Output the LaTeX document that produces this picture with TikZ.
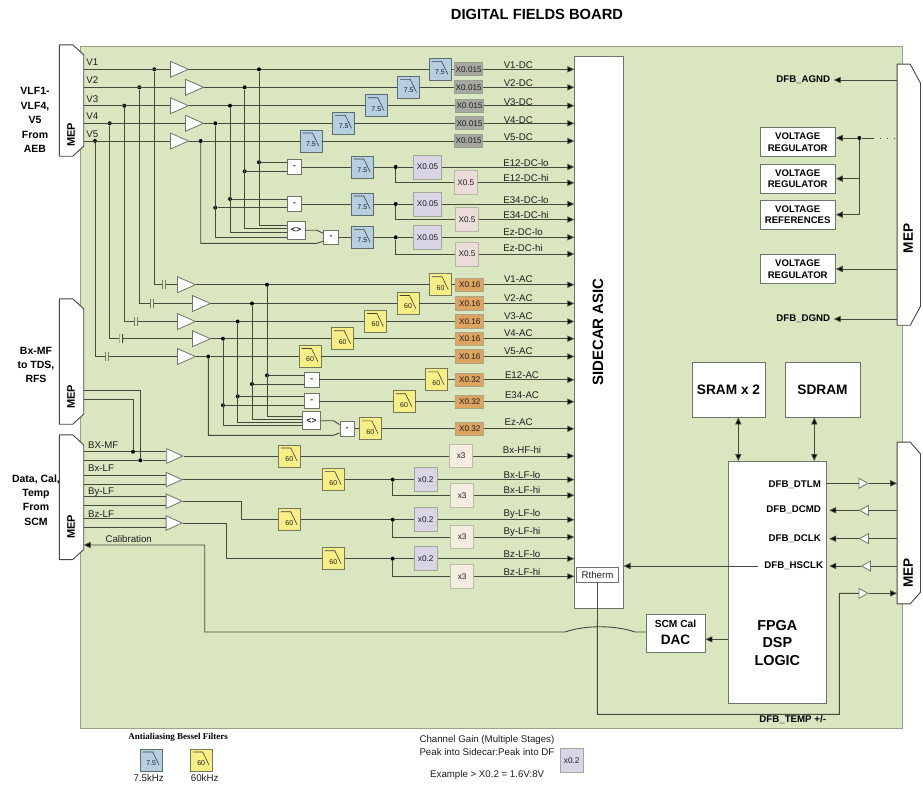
\documentclass[tikz,border=0pt]{standalone}
\usepackage{fontspec}
\setmainfont{Liberation Sans}
\newfontfamily\serifbold{Liberation Serif}
\usetikzlibrary{arrows.meta,shapes.geometric}
\definecolor{board}{HTML}{D9E6C0}
\definecolor{wirec}{HTML}{45483C}
\definecolor{txt}{HTML}{1E1E1E}
\definecolor{edgeg}{HTML}{70756A}
\newcommand\fs[1]{\fontsize{#1}{#1}\selectfont}
\tikzset{
 wire/.style={draw=wirec,line width=.9pt},
 arr/.style={wire,-{Triangle[length=7pt,width=6.2pt,fill=black]}},
 dbl/.style={wire,{Triangle[length=7pt,width=6.2pt,fill=black]}-{Triangle[length=7pt,width=6.2pt,fill=black]}},
 dot/.style={circle,fill=black,inner sep=0pt,minimum size=4pt},
 lbl/.style={inner sep=0pt,text=txt,font=\fs{9.7}},
 blbl/.style={inner sep=0pt,text=black,font=\fs{9.7}\bfseries,align=center},
 sidetxt/.style={inner sep=0pt,text=black,font=\fontsize{10.5}{14.4}\selectfont\bfseries,align=center},
 buf/.style={isosceles triangle,isosceles triangle stretches,draw=edgeg,fill=white,line width=.8pt,inner sep=0pt,minimum width=16pt,minimum height=18pt,anchor=west},
 tb/.style={buf,minimum width=10pt,minimum height=9pt},
 tbl/.style={tb,shape border rotate=180},
 capn/.style={rectangle,inner sep=0pt,fill=board,minimum width=3.4pt,minimum height=9.5pt,
   path picture={\draw[wirec,line width=1.6pt] (path picture bounding box.north west)--(path picture bounding box.south west) (path picture bounding box.north east)--(path picture bounding box.south east);}},
 filt/.style={rectangle,inner sep=0pt,minimum width=22pt,minimum height=22pt,line width=.95pt,
   label={[inner sep=0pt,text=txt,font=\fs{7},shift={(0,3)}]center:#1},
   path picture={\draw[black!75,line width=.6pt] ([shift={(2.5,3)}]path picture bounding box.north west) -- ++(10,0) -- ++(6.3,13);}},
 filtB/.style={filt=#1,fill=fb,draw=fbd},
 filtY/.style={filt=#1,fill=fy,draw=fyd},
 diffb/.style={rectangle,draw=edgeg,fill=white,line width=.85pt,inner sep=0pt,minimum width=14.5pt,minimum height=14.5pt,font=\fs{8.5}\bfseries,text=txt},
 logicb/.style={diffb,minimum width=17.7pt,minimum height=17.7pt},
 gain/.style={rectangle,inner sep=0pt,line width=.8pt,font=\fs{8.2},text=txt},
 gGray/.style={gain,fill=gGrayc,draw=gGrayd,minimum width=28pt,minimum height=13pt},
 gOr/.style={gain,fill=gOrc,draw=gOrd,minimum width=28pt,minimum height=13.3pt},
 gLil/.style={gain,fill=gLilc,draw=gLild,minimum width=28.4pt,minimum height=24pt},
 gLils/.style={gain,fill=gLilc,draw=gLild,minimum width=23pt,minimum height=24pt},
 gPink/.style={gain,fill=gPinkc,draw=gPinkd,minimum width=23pt,minimum height=24pt},
 gCr/.style={gain,fill=gCrc,draw=gCrd,minimum width=23pt,minimum height=23.7pt},
 mepn/.style={rectangle,inner sep=0pt},
 mepo/.style={draw=wirec,fill=white,line width=.9pt,line join=round},
 blk/.style={rectangle,draw=edgeg,fill=white,line width=.9pt,inner sep=0pt,align=center,text=black},
 vr/.style={blk,minimum width=75.3pt,minimum height=29.3pt,font=\fontsize{9.6}{11.7}\selectfont\bfseries},
}
\newcommand\mepdraw[3]{\draw[mepo] (#1.north west) -- ([xshift=-#2pt]#1.north east) -- ([yshift=-#3pt]#1.north east) -- ([yshift=#3pt]#1.south east) -- ([xshift=-#2pt]#1.south east) -- (#1.south west) -- cycle;}
\definecolor{fb}{HTML}{B5CEE0}\definecolor{fbd}{HTML}{5E6E70}
\definecolor{fy}{HTML}{F7EF85}\definecolor{fyd}{HTML}{76785A}
\definecolor{gGrayc}{HTML}{A8A8A2}\definecolor{gGrayd}{HTML}{98A090}
\definecolor{gOrc}{HTML}{DFA45F}\definecolor{gOrd}{HTML}{A8A888}
\definecolor{gLilc}{HTML}{DAD5E6}\definecolor{gLild}{HTML}{A4A898}
\definecolor{gPinkc}{HTML}{ECDDDA}\definecolor{gPinkd}{HTML}{B4B8A4}
\definecolor{gCrc}{HTML}{F5EDDF}\definecolor{gCrd}{HTML}{B8BCA8}
\begin{document}
\begin{tikzpicture}[x=1pt,y=-1pt]
\useasboundingbox (0,0) rectangle (923,785);
\fill[white] (0,0) rectangle (923,785);
\path[fill=board,draw=black!30!board,line width=1pt] (80,46) rectangle (902,728);
\node[inner sep=0pt,font=\fs{14.7}\bfseries] (title) at (537,14) {DIGITAL FIELDS BOARD};

% big blocks
\node[blk,minimum width=48.4pt,minimum height=552.3pt,anchor=north west] (asic) at (574.3,56) {};
\node[inner sep=0pt,rotate=90,font=\fs{15}\bfseries] (asict) at (598,332) {SIDECAR ASIC};
\node[mepn,minimum width=24pt,minimum height=111pt] (mep1) at (71.5,100.5) {};
\node[mepn,minimum width=24pt,minimum height=125pt] (mep2) at (71.5,361.5) {};
\node[mepn,minimum width=24pt,minimum height=124.3pt] (mep3) at (71.5,497.2) {};
\node[mepn,minimum width=23pt,minimum height=260.7pt] (mep4) at (908.8,194.7) {};
\node[mepn,minimum width=23pt,minimum height=161.4pt] (mep5) at (908.8,523) {};
\mepdraw{mep1}{11}{10}
\mepdraw{mep2}{11}{10}
\mepdraw{mep3}{11}{10}
\mepdraw{mep4}{10.3}{19}
\mepdraw{mep5}{10.3}{11.7}
\foreach \nm/\xx/\yy/\ss in {ma/71/135/11,mb/71/396.7/11,mc/71/527/11,md/908.3/238.3/13.6,me/908.3/572.7/13.6}
  \node[inner sep=0pt,rotate=90,font=\fs{\ss}\bfseries] (\nm) at (\xx,\yy) {MEP};
\node[sidetxt] (sa) at (35,120) {VLF1-\\VLF4,\\V5\\From\\AEB};
\node[sidetxt] (sb) at (36,365) {Bx-MF\\to TDS,\\RFS};
\node[sidetxt] (sc) at (36,500) {Data, Cal,\\Temp\\From\\SCM};

% V channels, DC
\foreach \n/\y/\bx/\jx/\fx/\gx/\ly in {1/69.3/170/259/440/468.7/65,2/87.3/185/244.7/408.7/468.7/83.3,3/105.7/170/230/376.3/469.5/101.7,4/123.3/185/215.3/343.7/469.5/119.7,5/141/170/200.7/311/468.7/137}{
  \node[buf] (bv\n) at (\bx,\y) {};
  \node[dot] (jv\n) at (\jx,\y) {};
  \node[filtB=7.5] (fv\n) at (\fx,\y) {};
  \node[gGray] (gv\n) at (\gx,\y) {X0.015};
  \node[lbl] (lv\n) at (518.3,\ly) {V\n-DC};
  \draw[wire] (bv\n.east) -- (jv\n) -- (fv\n.west);
  \draw[wire] (fv\n.east) -- (gv\n.west);
  \draw[arr] (gv\n.east) -- (gv\n.east -| asic.west);
}
% V inputs + AC channels
\foreach \n/\y/\ix/\iy/\cx/\bx/\jx/\fx/\ly in {1/284.7/154.3/69.3/164/177/267/440.5/279,2/303.5/139.3/87.3/152/192/252/408/298.3,3/321.5/124.3/105.7/136/177/237.7/375.5/315.7,4/338.7/109.7/123.3/121.3/192/223/342.7/333.3,5/356.5/95/141/107/177/208.3/310/351}{
  \node[inner sep=0pt,font=\fs{9.7},text=txt] (nv\n) at (92.3,\iy-7) {V\n};
  \node[dot] (iv\n) at (\ix,\iy) {};
  \node[capn] (cv\n) at (\cx,\y) {};
  \node[buf] (ba\n) at (\bx,\y) {};
  \node[dot] (ja\n) at (\jx,\y) {};
  \node[filtY=60] (fa\n) at (\fx,\y) {};
  \node[gOr] (ga\n) at (469.8,\y) {X0.16};
  \node[lbl] (la\n) at (518.3,\ly) {V\n-AC};
  \draw[wire] (mep1.east |- iv\n) -- (bv\n.west);
  \draw[wire] (iv\n) |- (cv\n.west);
  \draw[wire] (cv\n.east) -- (ba\n.west);
  \draw[wire] (ba\n.east) -- (ja\n) -- (fa\n.west);
  \draw[wire] (fa\n.east) -- (ga\n.west);
  \draw[arr] (ga\n.east) -- (ga\n.east -| asic.west);
}

% E DC diffs
\node[diffb] (d1) at (294.5,167) {-};
\node[diffb] (d2) at (294.5,204) {-};
\node[logicb] (lg1) at (296.2,230.2) {<>};
\node[diffb] (d3) at (331,237.3) {-};
\node[dot] (k1) at (259,162.3) {};
\node[dot] (k2) at (244.7,171.3) {};
\node[dot] (k3) at (230,199) {};
\node[dot] (k4) at (215.3,207.7) {};
\draw[wire] (k1) -- (d1.west |- k1);
\draw[wire] (k2) -- (d1.west |- k2);
\draw[wire] (k3) -- (d2.west |- k3);
\draw[wire] (k4) -- (d2.west |- k4);
\draw[wire] (jv1) |- (lg1.west |- 0,225);
\draw[wire] (jv2) |- (lg1.west |- 0,228.3);
\draw[wire] (jv3) |- (lg1.west |- 0,232.7);
\draw[wire] (jv4) |- (lg1.west |- 0,237.3);
\coordinate (kna) at (316.7,230.2);
\coordinate (knb) at (316.7,243.3);
\draw[wire] (lg1.east) -- (kna) -- (d3.west |- 0,233.3);
\draw[wire] (jv5) |- (knb) -- (d3.west |- 0,241.3);
% E DC chains
\foreach \n/\s/\y/\gy/\hx/\hy/\lox/\loy/\hiy/\nmA/\nmB in {1/d1/167/167/465.8/182.8/526/162.7/177.7/E12-DC-lo/E12-DC-hi,2/d2/204/204.5/467/219.5/526/200/214.7/E34-DC-lo/E34-DC-hi,3/d3/237.3/237.3/467/254/523/232.3/248.3/Ez-DC-lo/Ez-DC-hi}{
  \node[filtB=7.5] (fe\n) at (362.3,\y) {};
  \node[dot] (je\n) at (395.7,\y) {};
  \node[gLil] (gl\n) at (427.5,\y) {X0.05};
  \node[gPink] (gh\n) at (\hx,\hy) {X0.5};
  \node[lbl] (ll\n) at (\lox,\loy) {\nmA};
  \node[lbl] (lh\n) at (\lox,\hiy) {\nmB};
  \draw[wire] (\s.east) -- (fe\n.west);
  \draw[wire] (fe\n.east) -- (je\n) -- (gl\n.west);
  \draw[wire] (je\n) |- (gh\n.west);
  \draw[arr] (gl\n.east) -- (gl\n.east -| asic.west);
  \draw[arr] (gh\n.east) -- (gh\n.east -| asic.west);
}

% E AC diffs
\node[diffb] (a1) at (311.8,379.8) {-};
\node[diffb] (a2) at (311.8,401) {-};
\node[logicb] (lg2) at (311.7,420.7) {<>};
\node[diffb] (a3) at (347.2,428.8) {-};
\node[dot] (m1) at (267,375.3) {};
\node[dot] (m2) at (252,384) {};
\node[dot] (m3) at (237.7,396.3) {};
\node[dot] (m4) at (223,405.3) {};
\draw[wire] (m1) -- (a1.west |- m1);
\draw[wire] (m2) -- (a1.west |- m2);
\draw[wire] (m3) -- (a2.west |- m3);
\draw[wire] (m4) -- (a2.west |- m4);
\draw[wire] (ja1) |- (lg2.west |- 0,416);
\draw[wire] (ja2) |- (lg2.west |- 0,419.3);
\draw[wire] (ja3) |- (lg2.west |- 0,422.3);
\draw[wire] (ja4) |- (lg2.west |- 0,425);
\coordinate (kac) at (333.3,420.7);
\coordinate (kad) at (333.3,435.3);
\draw[wire] (lg2.east) -- (kac) -- (a3.west |- 0,424.5);
\draw[wire] (ja5) |- (kad) -- (a3.west |- 0,433);
\foreach \s/\n/\fx/\y/\lx/\ly/\nm in {a1/1/436.3/379.8/522/374.7/E12-AC,a2/2/404/401.7/522/395/E34-AC,a3/3/370.3/428.8/518.7/422.3/Ez-AC}{
  \node[filtY=60] (ff\n) at (\fx,\y) {};
  \node[gOr] (gq\n) at (469.8,\y) {X0.32};
  \node[lbl] (lq\n) at (\lx,\ly) {\nm};
  \draw[wire] (\s.east |- ff\n.west) -- (ff\n.west);
  \draw[wire] (ff\n.east) -- (gq\n.west);
  \draw[arr] (gq\n.east) -- (gq\n.east -| asic.west);
}

% search coil channels
\node[lbl] (lbm) at (103.3,444.7) {BX-MF};
\node[lbl] (lbx) at (101,468) {Bx-LF};
\node[lbl] (lby) at (101,491.7) {By-LF};
\node[lbl] (lbz) at (101,513.7) {Bz-LF};
\node[buf,minimum width=14.5pt,minimum height=16pt] (tm) at (166.3,456) {};
\node[buf,minimum width=14.5pt,minimum height=16pt] (tx) at (165.7,479.6) {};
\node[buf,minimum width=14.5pt,minimum height=16pt] (ty) at (165.7,501.2) {};
\node[buf,minimum width=14.5pt,minimum height=16pt] (tz) at (165.7,523) {};
\node[dot] (jm1) at (133,451.7) {};
\node[dot] (jm2) at (140.3,460.3) {};
\draw[wire] (mep3.east |- jm1) -- (jm1) -- (tm.west |- jm1);
\draw[wire] (mep3.east |- jm2) -- (jm2) -- (tm.west |- jm2);
\draw[wire] (mep2.east |- 0,399.3) -| (jm1);
\draw[wire] (mep2.east |- 0,390.7) -| (jm2);
\draw[wire] (mep3.east |- 0,475) -- (tx.west |- 0,475);
\draw[wire] (mep3.east |- 0,484) -- (tx.west |- 0,484);
\draw[wire] (mep3.east |- 0,496.7) -- (ty.west |- 0,496.7);
\draw[wire] (mep3.east |- 0,505.7) -- (ty.west |- 0,505.7);
\draw[wire] (mep3.east |- 0,518.7) -- (tz.west |- 0,518.7);
\draw[wire] (mep3.east |- 0,527.3) -- (tz.west |- 0,527.3);
\node[filtY=60] (fm) at (289.3,456) {};
\node[gCr] (hm) at (461.2,456) {x3};
\node[lbl] (lhm) at (522,450.3) {Bx-HF-hi};
\draw[wire] (tm.east) -- (fm.west);
\draw[wire] (fm.east) -- (hm.west);
\draw[arr] (hm.east) -- (hm.east -| asic.west);
\node[filtY=60] (fx) at (333.3,479.6) {};
\node[filtY=60] (fy) at (289.3,519.7) {};
\node[filtY=60] (fz) at (333.3,558.7) {};
\draw[wire] (tx.east) -- (fx.west);
\draw[wire] (ty.east) -| (241.7,519.7) -- (fy.west);
\draw[wire] (tz.east) -| (226.7,558.7) -- (fz.west);
\foreach \c/\y/\hy/\lo/\hi/\nm in {x/479.6/495.3/474.7/490/Bx,y/519.7/537/514/531.7/By,z/558.7/576.3/554/571.7/Bz}{
  \node[dot] (jz\c) at (392.7,\y) {};
  \node[gLils] (lo\c) at (425.7,\y) {x0.2};
  \node[gCr] (hi\c) at (462.2,\hy) {x3};
  \node[lbl] (tl\c) at (522,\lo) {\nm-LF-lo};
  \node[lbl] (th\c) at (522,\hi) {\nm-LF-hi};
  \draw[wire] (f\c.east) -- (jz\c) -- (lo\c.west);
  \draw[wire] (jz\c) |- (hi\c.west);
  \draw[arr] (lo\c.east) -- (lo\c.east -| asic.west);
  \draw[arr] (hi\c.east) -- (hi\c.east -| asic.west);
}

% Rtherm, DAC, FPGA
\node[blk,minimum width=41.6pt,minimum height=15.4pt,font=\fs{9.7},text=txt] (rth) at (597.5,575) {Rtherm};
\node[blk,minimum width=98pt,minimum height=242.3pt,anchor=north west] (fpga) at (728.3,461) {};
\node[inner sep=0pt,align=center,font=\fontsize{14.4}{17.5}\selectfont\bfseries] (fpgat) at (777.3,643) {FPGA\\DSP\\LOGIC};
\node[blk,minimum width=58.3pt,minimum height=38.7pt] (dac) at (675.8,633.3) {};
\node[inner sep=0pt,font=\fs{10.2}\bfseries] (dact) at (675.5,624) {SCM Cal};
\node[inner sep=0pt,font=\fs{13.6}\bfseries] (dact2) at (675.5,640) {DAC};
\node[blk,minimum width=73pt,minimum height=55pt,font=\fs{13.7}\bfseries] (sram) at (728.5,389.5) {SRAM x 2};
\node[blk,minimum width=75pt,minimum height=55pt,font=\fs{13.7}\bfseries] (sdram) at (822.5,389.5) {SDRAM};
\draw[dbl] (738.3,0 |- sram.south) -- (738.3,0 |- fpga.north);
\draw[dbl] (814.3,0 |- sdram.south) -- (814.3,0 |- fpga.north);
\draw[arr] (fpga.west |- 0,639.3) -- (dac.east |- 0,639.3);
\coordinate (cal1) at (204.7,632);
\coordinate (cal2) at (204.7,545);
\coordinate (cal3) at (565,632);
\coordinate (cal4) at (635,632);
\draw[arr] (dac.west |- cal4) -- (cal4) .. controls (615,625) and (585,625) .. (cal3) -- (cal1) -- (cal2) -- (mep3.east |- cal2);
\node[lbl] (lcal) at (128.7,539) {Calibration};
\node[blk,draw=none,fill=none,font=\fs{9.7}\bfseries] (ltemp) at (792.7,720) {DFB\_TEMP +/-};
\coordinate (rt1) at (597.3,714.3);
\coordinate (rt2) at (839.3,714.3);
\coordinate (rt3) at (839.3,593.3);
\node[tb] (t5) at (858.5,593.3) {};
\draw[wire] (rth.south) -- (rt1) -- (rt2) -- (rt3) -- (t5.west);
\draw[arr] (t5.east) -- (mep5.west |- t5.east);

% FPGA I/O
\node[blk,draw=none,fill=none,font=\fs{9.7}\bfseries,anchor=east] (s1) at (821.3,484.5) {DFB\_DTLM};
\node[blk,draw=none,fill=none,font=\fs{9.7}\bfseries,anchor=east] (s2) at (821.3,509.5) {DFB\_DCMD};
\node[blk,draw=none,fill=none,font=\fs{9.7}\bfseries,anchor=east] (s3) at (821.3,538.7) {DFB\_DCLK};
\node[blk,draw=none,fill=none,font=\fs{9.7}\bfseries,anchor=east] (s4) at (823.5,566) {DFB\_HSCLK};
\node[tb] (t1) at (858.5,483.3) {};
\node[tbl] (t2) at (858.5,510.3) {};
\node[tbl] (t3) at (858.5,538.7) {};
\node[tbl] (t4) at (860.5,566) {};
\draw[wire] (fpga.east |- t1.west) -- (t1.west);
\draw[arr] (t1.east) -- (mep5.west |- t1.east);
\foreach \k in {2,3,4}{
  \draw[wire] (mep5.west |- t\k.east) -- (t\k.east);
  \coordinate (tk\k) at ([xshift=2pt]fpga.east |- t\k.west);
  \draw[arr] (t\k.west) -- (tk\k);
}
\coordinate (s4l) at ([xshift=-6pt]s4.west);
\draw[arr] (s4l) -- (asic.east |- s4l);

% power
\node[vr] (v1) at (797.7,142) {VOLTAGE\\REGULATOR};
\node[vr] (v2) at (797.7,178.7) {VOLTAGE\\REGULATOR};
\node[vr] (v3) at (797.7,214.7) {VOLTAGE\\REFERENCES};
\node[vr] (v4) at (797.7,269) {VOLTAGE\\REGULATOR};
\node[dot] (jp) at (859.3,138) {};
\coordinate (jp2) at (873,138);
\draw[arr] (jp) -- (v1.east |- jp);
\draw[wire] (jp) -- (jp2);
\draw[wire,dash pattern=on 1pt off 6pt] (jp2) -- (mep4.west |- jp2);
\draw[arr] (jp) |- (v2.east);
\draw[arr] (jp) |- (v3.east);
\draw[arr] (mep4.west |- v4.east) -- (v4.east);
\node[blk,draw=none,fill=none,font=\fs{9.7}\bfseries] (agnd) at (803.3,80) {DFB\_AGND};
\node[blk,draw=none,fill=none,font=\fs{9.7}\bfseries] (dgnd) at (803.3,319) {DFB\_DGND};
\draw[arr] (mep4.west |- agnd) -- ([xshift=3pt]agnd.east);
\draw[arr] (mep4.west |- dgnd) -- ([xshift=3pt]dgnd.east);

% legend
\node[inner sep=0pt,font=\fs{9}\serifbold\bfseries] (lg0) at (178,737) {Antialiasing Bessel Filters};
\node[filtB=7.5] (lf1) at (151.2,760) {};
\node[filtY=60] (lf2) at (201.2,760) {};
\node[lbl] (lf1t) at (148.7,778) {7.5kHz};
\node[lbl] (lf2t) at (204.7,778) {60kHz};
\node[lbl,anchor=west] (c1) at (419.3,740) {Channel Gain (Multiple Stages)};
\node[lbl,anchor=west] (c2) at (419.3,752) {Peak into Sidecar:Peak into DF};
\node[lbl,anchor=west] (c3) at (430,775) {Example > X0.2 = 1.6V:8V};
\node[gLils] (c4) at (571.7,760.8) {x0.2};
\end{tikzpicture}
\end{document}
